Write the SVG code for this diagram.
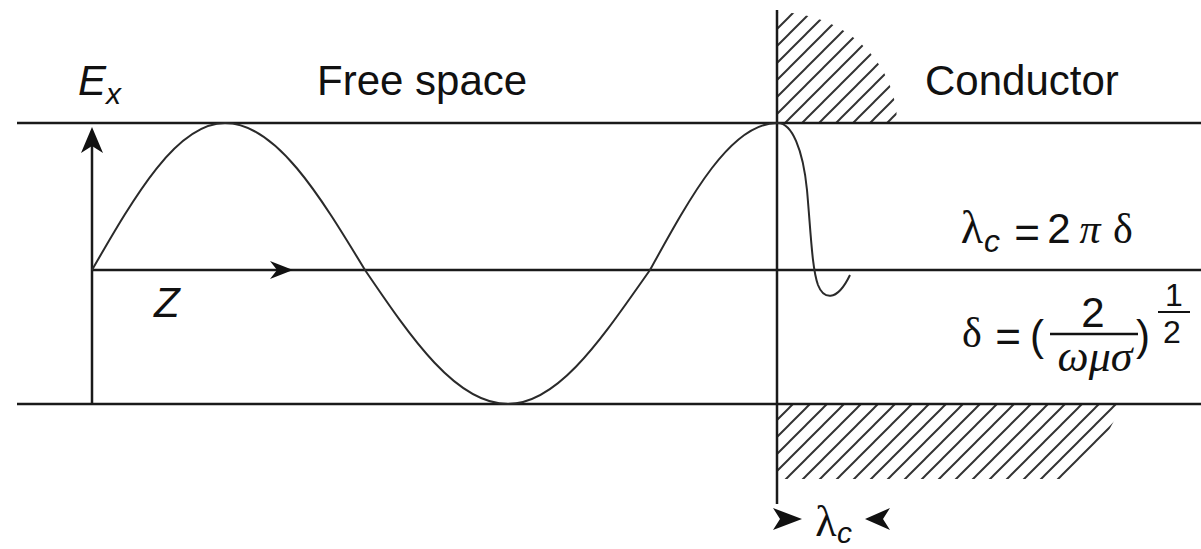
<svg xmlns="http://www.w3.org/2000/svg" width="1201" height="549" viewBox="0 0 1201 549">
<defs>
<style>
.ln{stroke:#1a1a1a;stroke-width:2.5;fill:none}
.wave{stroke:#2a2a2a;stroke-width:2;fill:none}
.ah{fill:#111;stroke:none}
.s{font-family:"Liberation Sans",Arial,sans-serif;fill:#111}
.si{font-family:"Liberation Sans",Arial,sans-serif;font-style:italic;fill:#111}
.g{font-family:"Liberation Serif","Times New Roman",serif;fill:#111}
.gi{font-family:"Liberation Serif","Times New Roman",serif;font-style:italic;fill:#111}
</style>
<pattern id="hatch" patternUnits="userSpaceOnUse" x="7" y="0" width="17" height="17">
<path d="M0,17 L17,0 M-3,3 L3,-3 M14,20 L20,14" stroke="#333" stroke-width="2"/>
</pattern>
<clipPath id="topClip"><path d="M777,123 L777,12 A120,111 0 0 1 897,123 Z"/></clipPath>
<clipPath id="botClip"><path d="M777,404 L1123,404 L1108,432 L1066,479 L777,479 Z"/></clipPath>
</defs>

<g id="hatching">
<rect x="777" y="10" width="130" height="114" fill="url(#hatch)" clip-path="url(#topClip)"/>
<rect x="777" y="404" width="350" height="76" fill="url(#hatch)" clip-path="url(#botClip)"/>
</g>

<g id="frame">
<line class="ln" x1="17" y1="123" x2="1201" y2="123"/>
<line class="ln" x1="17" y1="404" x2="1201" y2="404"/>
<line class="ln" x1="92" y1="270" x2="1201" y2="270"/>
<line class="ln" x1="777" y1="10" x2="777" y2="504"/>
<line class="ln" x1="92" y1="140" x2="92" y2="404"/>
</g>

<g id="connectors">
<path class="ah" d="M92,127 L103,153 L92,146 L81,153 Z"/>
<path class="ah" d="M293,270 L270,261 L277,270 L270,279 Z"/>
<path class="ah" d="M802,519 L773,508 L780,519 L773,530 Z"/>
<path class="ah" d="M865,519 L890,508 L883,519 L890,530 Z"/>
</g>

<g id="wave">
<path class="wave" d="M92,270 C135.4,194.7 176.9,123 225,123 C275.7,123 319.3,194.7 365,270 C411.6,338.6 456.2,404 508,404 C559.4,404 603.7,335.4 650,270 C691.4,194.7 731,123 777,123"/>
<path class="wave" d="M777,123 C792,122 803,150 807,190 C811,235 812,268 818,285 C823,298 836,304 850,275"/>
</g>

<g id="labels">
<text class="si" x="78" y="95" font-size="42">E</text>
<text class="si" x="106" y="104" font-size="30">x</text>
<text class="s" x="317" y="95" font-size="42">Free space</text>
<text class="s" x="925" y="95" font-size="42">Conductor</text>
<text class="si" x="154" y="317" font-size="42">Z</text>
</g>

<g id="formula1">
<text class="g" x="972" y="243" font-size="46" text-anchor="middle">λ</text>
<text class="si" x="984" y="252" font-size="32">c</text>
<text class="s" x="1027" y="248" font-size="44" text-anchor="middle">=</text>
<text class="s" x="1059" y="243" font-size="42" text-anchor="middle">2</text>
<text class="gi" x="1090" y="243" font-size="42" text-anchor="middle">π</text>
<text class="g" x="1123" y="243" font-size="42" text-anchor="middle">δ</text>
</g>

<g id="formula2">
<text class="g" x="972" y="347" font-size="42" text-anchor="middle">δ</text>
<text class="s" x="1008" y="352" font-size="44" text-anchor="middle">=</text>
<text class="s" x="1037" y="350" font-size="42" text-anchor="middle">(</text>
<text class="s" x="1093" y="327" font-size="42" text-anchor="middle">2</text>
<line x1="1050" y1="334" x2="1138" y2="334" stroke="#111" stroke-width="2.5"/>
<text class="gi" x="1095" y="371" font-size="44" text-anchor="middle">ωμσ</text>
<text class="s" x="1143" y="350" font-size="42" text-anchor="middle">)</text>
<text class="s" x="1174" y="306" font-size="32" text-anchor="middle">1</text>
<line x1="1158" y1="312" x2="1190" y2="312" stroke="#111" stroke-width="2"/>
<text class="s" x="1172" y="343" font-size="32" text-anchor="middle">2</text>
</g>

<g id="bottom-label">
<text class="g" x="826" y="536" font-size="44" text-anchor="middle">λ</text>
<text class="si" x="837" y="543" font-size="30">c</text>
</g>
</svg>
